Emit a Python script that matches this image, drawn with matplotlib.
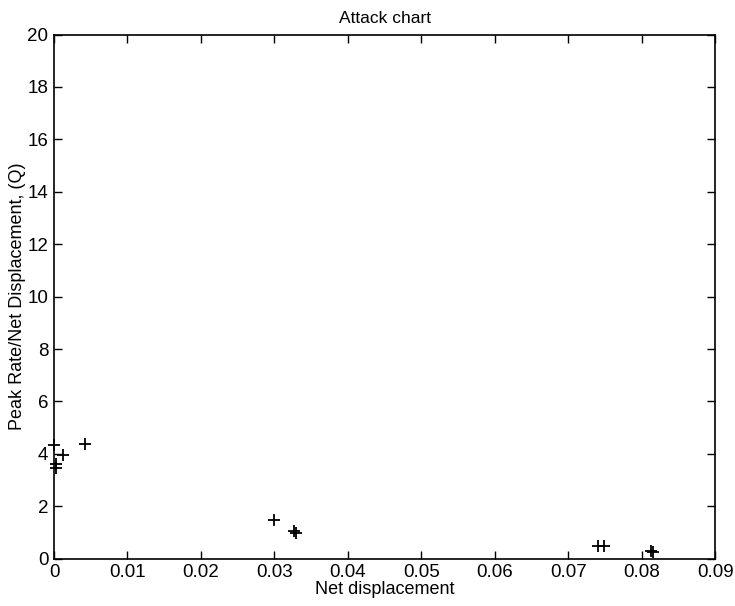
import matplotlib
matplotlib.use("Agg")
import matplotlib.pyplot as plt

plt.rcParams['font.family'] = ['Liberation Sans', 'DejaVu Sans']

net_disp = [0.0000, 0.0012, 0.0003, 0.0003, 0.0042, 0.0300, 0.0327, 0.0329,
            0.0741, 0.0749, 0.0813, 0.0815]
q_ratio = [4.35, 3.95, 3.60, 3.45, 4.38, 1.48, 1.05, 1.00,
           0.47, 0.47, 0.30, 0.25]
x_ticks = [0, 0.01, 0.02, 0.03, 0.04, 0.05, 0.06, 0.07, 0.08, 0.09]
x_tick_labels = ['0', '0.01', '0.02', '0.03', '0.04', '0.05', '0.06', '0.07', '0.08', '0.09']
y_ticks = [0, 2, 4, 6, 8, 10, 12, 14, 16, 18, 20]

fig = plt.figure(figsize=(7.35, 6.06), dpi=100)
ax = fig.add_axes([0.0735, 0.078, 0.8995, 0.865])
ax.plot(net_disp, q_ratio, linestyle='none', marker='+', color='black',
        markersize=8, markeredgewidth=1.3, clip_on=False)
ax.set_xlim(0, 0.09)
ax.set_ylim(0, 20)
ax.set_xticks(x_ticks)
ax.set_xticklabels(x_tick_labels)
ax.set_yticks(y_ticks)
ax.tick_params(direction='in', top=True, right=True, length=6, width=1,
               labelsize=13.5, pad=4, colors='black')
for s in ax.spines.values():
    s.set_linewidth(1.2)
ax.set_title('Attack chart', fontsize=12.5, pad=8)
ax.set_xlabel('Net displacement', fontsize=13, labelpad=0)
ax.set_ylabel('Peak Rate/Net Displacement, (Q)', fontsize=13, labelpad=1)
fig.savefig('out.png', dpi=100)
